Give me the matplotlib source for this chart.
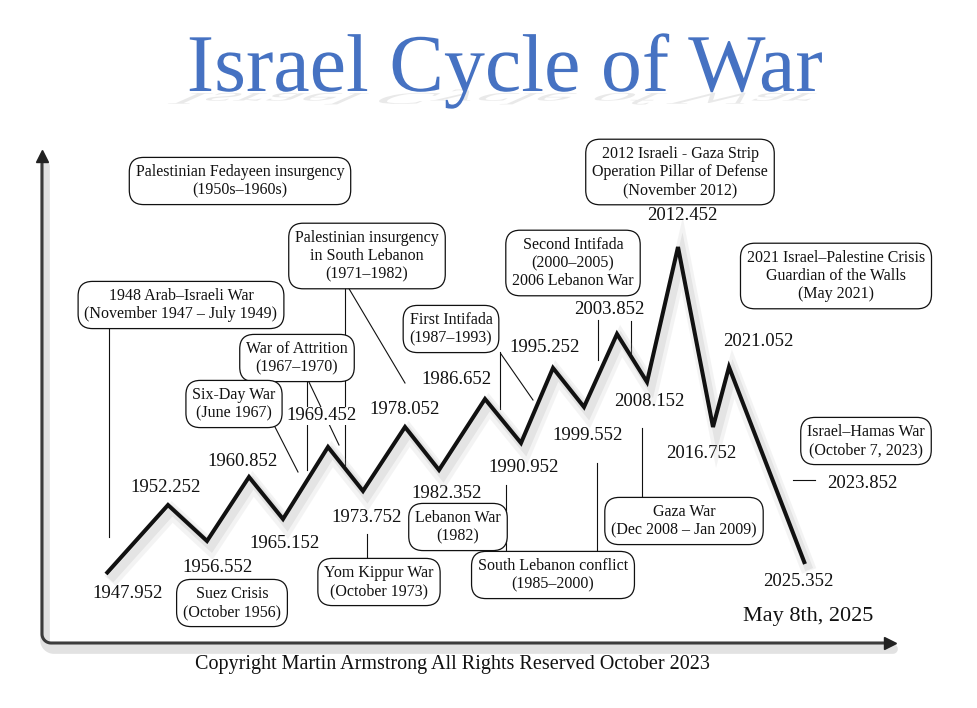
import matplotlib
matplotlib.use("Agg")
import matplotlib.pyplot as plt
import numpy as np
from matplotlib import patheffects as pe
from matplotlib.patheffects import AbstractPathEffect
from matplotlib.transforms import Affine2D
from matplotlib.colors import to_rgb

# ---------------- data ----------------
turn_years = [1947.952, 1952.252, 1956.552, 1960.852, 1965.152, 1969.452, 1973.752,
              1978.052, 1982.352, 1986.652, 1990.952, 1995.252, 1999.552, 2003.852,
              2008.152, 2012.452, 2016.752, 2021.052, 2025.352]
# horizontal position of each turning point along the (unscaled) time axis
wave_x = [64, 126, 165, 207, 241, 286, 321, 363, 397, 443, 479, 511, 542, 575,
          605, 636, 671, 687, 763]
# level of the cycle at each turning point
wave_level = [69, 138, 102, 166, 124, 196, 152, 216, 173, 244, 200, 275, 236, 309,
              261, 396, 216, 276, 79]
extra_label = "2023.852"
date_note = "May 8th, 2025"

events = [
    "Palestinian Fedayeen insurgency\n(1950s\u20131960s)",
    "1948 Arab\u2013Israeli War\n(November 1947 \u2013 July 1949)",
    "Palestinian insurgency\nin South Lebanon\n(1971\u20131982)",
    "War of Attrition\n(1967\u20131970)",
    "Six-Day War\n(June 1967)",
    "First Intifada\n(1987\u20131993)",
    "Second Intifada\n(2000\u20132005)\n2006 Lebanon War",
    "2012 Israeli - Gaza Strip\nOperation Pillar of Defense\n(November 2012)",
    "2021 Israel\u2013Palestine Crisis\nGuardian of the Walls\n(May 2021)",
    "Israel\u2013Hamas War\n(October 7, 2023)",
    "Gaza War\n(Dec 2008 \u2013 Jan 2009)",
    "Suez Crisis\n(October 1956)",
    "Yom Kippur War\n(October 1973)",
    "Lebanon War\n(1982)",
    "South Lebanon conflict\n(1985\u20132000)",
]

# ---------------- layout helpers ----------------
X0, Y0 = 42, 643   # pixel location of the axis corner
def P(px, py):
    return (px - X0, Y0 - py)

FONT = "Liberation Serif"

fig = plt.figure(figsize=(9.78, 7.08), dpi=100)
ax = fig.add_axes([0, 0, 1, 1])
ax.set_xlim(-X0, 978 - X0)
ax.set_ylim(Y0 - 708, Y0)
ax.axis("off")

# ---------------- title with floor shadow ----------------
class FloorShadow(AbstractPathEffect):
    def __init__(self, anchor_fig, color="#cfcfcf", alpha=0.45):
        super().__init__()
        self.anchor = anchor_fig
        self.color = to_rgb(color)
        self.alpha = alpha

    def draw_path(self, renderer, gc, tpath, affine, rgbFace=None):
        bx, by = fig.transFigure.transform(self.anchor)
        extra = Affine2D().translate(-bx, -by)
        extra = extra + Affine2D(np.array([[1, -0.45, 0], [0, -0.2, 0], [0, 0, 1]]))
        extra = extra + Affine2D().translate(bx + 2, by - 2)
        gc0 = renderer.new_gc()
        gc0.copy_properties(gc)
        gc0.set_alpha(self.alpha)
        gc0.set_linewidth(0)
        renderer.draw_path(gc0, tpath, affine + extra, self.color)
        gc0.restore()

title_anchor = (505 / 978, 1 - 91 / 708)
fig.text(*title_anchor, "Israel Cycle of War", ha="center", va="baseline",
         fontsize=59, family=FONT, color="#4672c2",
         path_effects=[FloorShadow(title_anchor), pe.Normal()])

# ---------------- axes with arrows ----------------
r = 9
theta = np.linspace(np.pi, 1.5 * np.pi, 12)
ax_x = np.concatenate([[0, 0], r + r * np.cos(theta), [848]])
ax_y = np.concatenate([[483, r], r + r * np.sin(theta), [0]])
ax.plot(ax_x + 3, ax_y - 6, color="#e2e2e2", lw=7, solid_capstyle="round", zorder=1)
ax.plot(ax_x, ax_y, color="#3c3c3c", lw=2.2, solid_capstyle="butt", zorder=2)
ax.plot(*P(42, 156), marker="^", ms=9, color="#222222", zorder=2)
ax.plot(*P(890, 643), marker=">", ms=9, color="#222222", zorder=2)

# ---------------- cycle line ----------------
ax.plot(wave_x, wave_level, color="#111111", lw=2.9, zorder=5,
        solid_joinstyle="miter", solid_capstyle="butt",
        path_effects=[pe.SimpleLineShadow(offset=(3, -5), shadow_color="#b0b0b0", alpha=0.14, linewidth=11),
                      pe.SimpleLineShadow(offset=(3, -4), shadow_color="#a0a0a0", alpha=0.18, linewidth=6),
                      pe.Normal()])

# ---------------- turning-point labels ----------------
label_pos = [(128, 593), (166, 488), (218, 568), (243, 461), (285, 543), (322, 416),
             (367, 517), (405, 409), (447, 493), (456, 380), (524, 467), (545, 347),
             (588, 436), (609, 309), (649, 401), (682, 216), (701, 454), (758, 341),
             (798, 581)]
for yr, (px, py) in zip(turn_years, label_pos):
    ax.text(*P(px, py), f"{yr:.3f}", ha="center", va="center", fontsize=13.5,
            family=FONT, color="#111111", zorder=4,
            bbox=dict(boxstyle="square,pad=0.05", fc="white", ec="none"))
ax.text(*P(862, 483), extra_label, ha="center", va="center", fontsize=13.5,
        family=FONT, color="#111111", zorder=4)
ax.text(*P(808, 616), date_note, ha="center", va="center", fontsize=16,
        family=FONT, color="#111111", zorder=4)

# ---------------- event boxes ----------------
box_pos = [(240, 181), (181, 305), (367, 256), (297, 358), (234, 404), (451, 329),
           (573, 263), (680, 172), (836, 276), (866, 441), (684, 521), (232, 603),
           (379, 582), (458, 527), (553, 575)]
for txt, (px, py) in zip(events, box_pos):
    ax.text(*P(px, py), txt, ha="center", va="center", fontsize=11.5, family=FONT,
            linespacing=1.2, color="#111111", zorder=6,
            bbox=dict(boxstyle="round,pad=0.4,rounding_size=0.9", fc="white",
                      ec="#111111", lw=0.9))

# ---------------- connector lines ----------------
connectors = [
    ((109, 327), (109, 537)),
    ((345, 286), (345, 465)),
    ((348, 287), (405, 383)),
    ((307, 379), (307, 470)),
    ((308, 380), (339, 445)),
    ((275, 427), (298, 472)),
    ((500, 352), (500, 409)),
    ((501, 354), (533, 400)),
    ((598, 320), (598, 360)),
    ((631, 321), (631, 353)),
    ((793, 480), (815, 480)),
    ((642, 428), (642, 497)),
    ((367, 534), (367, 561)),
    ((506, 485), (506, 553)),
    ((597, 463), (597, 553)),
]
for (a, b) in connectors:
    (x1, y1), (x2, y2) = P(*a), P(*b)
    ax.plot([x1, x2], [y1, y2], color="#111111", lw=0.8, zorder=3)

# ---------------- footer ----------------
fig.text(452 / 978, 1 - 664 / 708, "Copyright Martin Armstrong All Rights Reserved October 2023",
         ha="center", va="center", fontsize=14.5, family=FONT, color="#111111")

fig.savefig("out.png", dpi=100, facecolor="white")
